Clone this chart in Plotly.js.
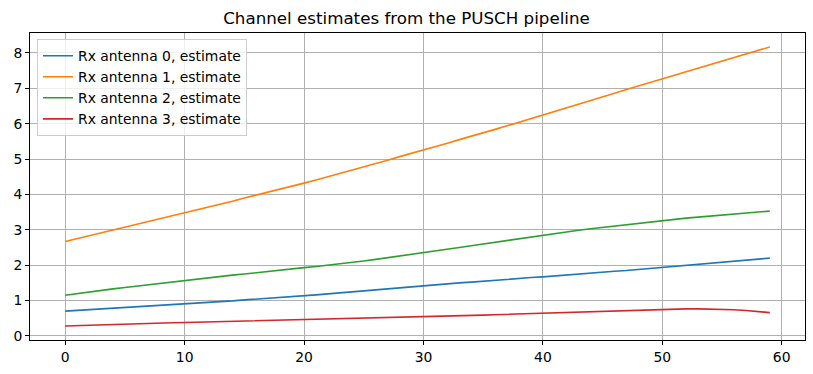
<!DOCTYPE html>
<html>
<head>
<meta charset="utf-8">
<script src="https://cdn.plot.ly/plotly-3.0.1.min.js"></script>
<style>html,body{margin:0;padding:0;background:#fff;}#chart{width:813px;height:374px;}</style>
</head>
<body>
<div id="chart"></div>
<script>
const subcarrierIndex = Array.from({length: 60}, (_, i) => i);
const seriesNames = ["Rx antenna 0, estimate", "Rx antenna 1, estimate", "Rx antenna 2, estimate", "Rx antenna 3, estimate"];
const seriesColors = ["#1f77b4", "#ff7f0e", "#2ca02c", "#d62728"];

const rx0 = [0.70,0.72,0.74,0.76,0.78,0.80,0.82,0.84,0.87,0.89,
             0.91,0.93,0.95,0.97,0.99,1.02,1.04,1.06,1.08,1.11,
             1.13,1.16,1.19,1.22,1.25,1.28,1.31,1.34,1.37,1.40,
             1.42,1.45,1.47,1.50,1.52,1.55,1.57,1.60,1.62,1.65,
             1.67,1.70,1.72,1.75,1.78,1.80,1.83,1.85,1.88,1.90,
             1.93,1.96,1.99,2.02,2.05,2.08,2.11,2.14,2.17,2.20];
const rx1 = [2.67,2.75,2.83,2.91,2.99,3.07,3.15,3.24,3.32,3.40,
             3.48,3.56,3.65,3.73,3.81,3.90,3.98,4.07,4.15,4.24,
             4.32,4.41,4.50,4.59,4.70,4.79,4.88,4.97,5.07,5.16,
             5.26,5.35,5.45,5.55,5.64,5.74,5.84,5.94,6.04,6.14,
             6.24,6.34,6.45,6.55,6.66,6.76,6.86,6.97,7.07,7.18,
             7.28,7.38,7.49,7.59,7.69,7.78,7.88,7.98,8.08,8.17];
const rx2 = [1.15,1.20,1.24,1.29,1.33,1.37,1.41,1.46,1.50,1.54,
             1.58,1.61,1.65,1.68,1.72,1.75,1.79,1.82,1.86,1.89,
             1.93,1.965,2.00,2.04,2.08,2.12,2.165,2.21,2.255,2.30,
             2.35,2.40,2.45,2.50,2.55,2.60,2.66,2.71,2.76,2.81,
             2.86,2.905,2.95,2.99,3.03,3.07,3.11,3.15,3.19,3.23,
             3.265,3.30,3.33,3.36,3.39,3.42,3.45,3.48,3.505,3.53];
const rx3 = [0.280,0.292,0.303,0.314,0.325,0.335,0.345,0.354,0.363,0.372,
             0.380,0.388,0.396,0.403,0.410,0.417,0.424,0.431,0.438,0.445,
             0.452,0.460,0.468,0.476,0.484,0.492,0.500,0.508,0.517,0.526,
             0.535,0.545,0.556,0.567,0.578,0.589,0.600,0.611,0.622,0.633,
             0.645,0.657,0.669,0.681,0.692,0.703,0.714,0.724,0.734,0.743,
             0.752,0.760,0.765,0.766,0.763,0.755,0.740,0.720,0.695,0.660];
const allSeries = [rx0, rx1, rx2, rx3];

const xTicks = [0, 10, 20, 30, 40, 50, 60];
const yTicks = [0, 1, 2, 3, 4, 5, 6, 7, 8];

const traces = allSeries.map((ys, i) => ({
  x: subcarrierIndex, y: ys, type: 'scatter', mode: 'lines',
  name: seriesNames[i], line: {color: seriesColors[i], width: 1.6}
}));

const font = {family: 'DejaVu Sans, sans-serif', size: 13.9, color: '#000'};
const axisCommon = {
  showline: true, linecolor: '#000', linewidth: 1, mirror: true,
  ticks: 'outside', ticklen: 4, tickwidth: 1, tickcolor: '#000',
  showgrid: true, gridcolor: '#b0b0b0', gridwidth: 1, zeroline: false,
  tickfont: font
};

const layout = {
  width: 813, height: 374,
  margin: {l: 30, r: 8, t: 33, b: 34},
  paper_bgcolor: '#fff', plot_bgcolor: '#fff',
  font: font,
  title: {text: 'Channel estimates from the PUSCH pipeline', font: {family: 'DejaVu Sans, sans-serif', size: 16.7, color: '#000'}, x: 0.5, xanchor: 'center', y: 0.952, yanchor: 'middle'},
  xaxis: Object.assign({}, axisCommon, {range: [-2.95, 61.95], tickmode: 'array', tickvals: xTicks, ticktext: xTicks.map(String)}),
  yaxis: Object.assign({}, axisCommon, {range: [-0.115, 8.565], tickmode: 'array', tickvals: yTicks, ticktext: yTicks.map(String)}),
  showlegend: true,
  legend: {x: 0.009, y: 0.98, xanchor: 'left', yanchor: 'top', bgcolor: 'rgba(255,255,255,0.8)', bordercolor: '#cccccc', borderwidth: 1, font: font, tracegroupgap: 0}
};

Plotly.newPlot('chart', traces, layout, {staticPlot: true, displayModeBar: false});
</script>
</body>
</html>
